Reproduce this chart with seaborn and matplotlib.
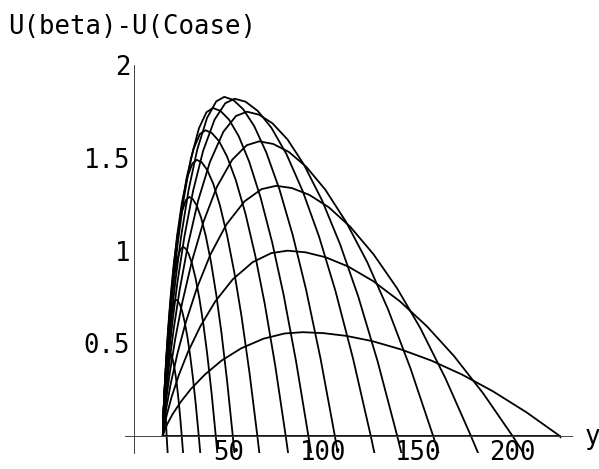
import matplotlib
matplotlib.use("Agg")
import pandas as pd
import matplotlib.pyplot as plt
import seaborn as sns
from matplotlib.ticker import MultipleLocator, FixedLocator

# curves: every hump starts at y=15, U=0
h00_x = [15, 225]
h00_u = [0, 0]
h01_x = [15, 15.05, 15.15, 15.35, 15.7, 16.0, 16.4, 16.75, 17.0, 17.6]
h01_u = [0, 0.05, 0.10, 0.15, 0.18, 0.17, 0.12, 0.06, 0, -0.10]
h02_x = [15, 15.04, 15.1, 15.25, 15.46, 15.7, 16.05, 16.47, 16.96, 17.52, 18.05, 18.5,
         19.02, 19.6, 20.26, 20.97, 21.75, 22.53, 23.31, 24.16, 25.0, 25.77]
h02_u = [0, 0.021, 0.05, 0.095, 0.149, 0.203, 0.266, 0.327, 0.380, 0.422, 0.444, 0.45,
         0.446, 0.434, 0.411, 0.376, 0.327, 0.266, 0.194, 0.103, 0, -0.10]
h03_x = [15, 15.07, 15.21, 15.49, 15.91, 16.4, 17.1, 17.94, 18.92, 20.04, 21.09, 22.0,
         22.96, 24.04, 25.24, 26.56, 28.0, 29.44, 30.88, 32.44, 34.0, 34.87]
h03_u = [0, 0.035, 0.081, 0.154, 0.244, 0.331, 0.434, 0.534, 0.621, 0.689, 0.725, 0.735,
         0.728, 0.709, 0.672, 0.614, 0.534, 0.434, 0.317, 0.168, 0, -0.10]
h04_x = [15, 15.11, 15.32, 15.75, 16.39, 17.14, 18.21, 19.49, 20.99, 22.7, 24.31, 25.7,
         27.08, 28.64, 30.37, 32.27, 34.35, 36.43, 38.5, 40.75, 43.0, 43.9]
h04_u = [0, 0.048, 0.112, 0.214, 0.339, 0.46, 0.603, 0.741, 0.862, 0.957, 1.007, 1.02,
         1.011, 0.983, 0.932, 0.853, 0.741, 0.603, 0.44, 0.234, 0, -0.10]
h05_x = [15, 15.14, 15.42, 15.98, 16.82, 17.8, 19.2, 20.88, 22.84, 25.08, 27.18, 29.0,
         30.84, 32.91, 35.21, 37.74, 40.5, 43.26, 46.02, 49.01, 52.0, 52.95]
h05_u = [0, 0.061, 0.142, 0.271, 0.428, 0.582, 0.762, 0.937, 1.09, 1.21, 1.273, 1.29,
         1.278, 1.244, 1.179, 1.078, 0.937, 0.762, 0.556, 0.295, 0, -0.10]
h06_x = [15, 15.18, 15.54, 16.26, 17.34, 18.6, 20.4, 22.56, 25.08, 27.96, 30.66, 33.0,
         35.56, 38.44, 41.64, 45.16, 49.0, 52.84, 56.68, 60.84, 65.0, 66.15]
h06_u = [0, 0.070, 0.164, 0.313, 0.495, 0.672, 0.881, 1.082, 1.259, 1.398, 1.471, 1.49,
         1.477, 1.436, 1.362, 1.246, 1.082, 0.881, 0.642, 0.341, 0, -0.10]
h07_x = [15, 15.23, 15.68, 16.58, 17.93, 19.5, 21.75, 24.45, 27.6, 31.2, 34.58, 37.5,
         40.9, 44.73, 48.98, 53.65, 58.75, 63.85, 68.95, 74.48, 80.0, 81.37]
h07_u = [0, 0.078, 0.182, 0.347, 0.548, 0.744, 0.975, 1.198, 1.394, 1.548, 1.629, 1.65,
         1.635, 1.591, 1.508, 1.379, 1.198, 0.975, 0.711, 0.378, 0, -0.10]
h08_x = [15, 15.27, 15.8, 16.86, 18.45, 20.3, 22.95, 26.13, 29.84, 34.08, 38.06, 41.5,
         45.54, 50.09, 55.14, 60.69, 66.75, 72.81, 78.87, 85.44, 92.0, 93.53]
h08_u = [0, 0.083, 0.195, 0.372, 0.588, 0.798, 1.046, 1.285, 1.496, 1.66, 1.747, 1.77,
         1.754, 1.706, 1.618, 1.48, 1.285, 1.046, 0.763, 0.405, 0, -0.10]
h09_x = [15, 15.33, 15.98, 17.28, 19.23, 21.5, 24.75, 28.65, 33.2, 38.4, 43.28, 47.5,
         52.18, 57.45, 63.3, 69.73, 76.75, 83.77, 90.79, 98.4, 106.0, 107.7]
h09_u = [0, 0.086, 0.201, 0.384, 0.608, 0.825, 1.082, 1.329, 1.546, 1.717, 1.806, 1.83,
         1.814, 1.764, 1.673, 1.53, 1.329, 1.082, 0.789, 0.419, 0, -0.10]
h10_x = [15, 15.38, 16.14, 17.66, 19.94, 22.6, 26.4, 30.96, 36.28, 42.36, 48.06, 53.0,
         58.76, 65.24, 72.44, 80.36, 89.0, 97.64, 106.28, 115.64, 125.0, 127.1]
h10_u = [0, 0.086, 0.2, 0.382, 0.604, 0.821, 1.076, 1.321, 1.538, 1.707, 1.796, 1.82,
         1.804, 1.754, 1.663, 1.522, 1.321, 1.076, 0.784, 0.417, 0, -0.10]
h11_x = [15, 15.45, 16.34, 18.12, 20.79, 23.9, 28.35, 33.69, 39.92, 47.04, 53.72, 59.5,
         65.86, 73.02, 80.97, 89.71, 99.25, 108.79, 118.33, 128.67, 139.0, 141.4]
h11_u = [0, 0.082, 0.193, 0.368, 0.581, 0.789, 1.034, 1.271, 1.479, 1.642, 1.727, 1.75,
         1.734, 1.687, 1.6, 1.463, 1.271, 1.034, 0.754, 0.401, 0, -0.10]
h12_x = [15, 15.51, 16.53, 18.57, 21.63, 25.2, 30.3, 36.42, 43.56, 51.72, 59.37, 66.0,
         73.36, 81.64, 90.84, 100.96, 112.0, 123.04, 134.08, 146.04, 158.0, 161.1]
h12_u = [0, 0.075, 0.175, 0.334, 0.528, 0.717, 0.94, 1.154, 1.344, 1.491, 1.569, 1.59,
         1.576, 1.533, 1.453, 1.329, 1.154, 0.94, 0.685, 0.364, 0, -0.10]
h13_x = [15, 15.6, 16.8, 19.2, 22.8, 27.0, 33.0, 40.2, 48.6, 58.2, 67.2, 75.0,
         83.24, 92.51, 102.81, 114.14, 126.5, 138.86, 151.22, 164.61, 178.0, 182.1]
h13_u = [0, 0.063, 0.149, 0.284, 0.448, 0.609, 0.798, 0.98, 1.141, 1.266, 1.332, 1.35,
         1.338, 1.301, 1.234, 1.129, 0.98, 0.798, 0.582, 0.309, 0, -0.10]
h14_x = [15, 15.66, 16.98, 19.62, 23.58, 28.2, 34.8, 42.72, 51.96, 62.52, 72.42, 81.0,
         90.52, 101.23, 113.13, 126.22, 140.5, 154.78, 169.06, 184.53, 200.0, 206.3]
h14_u = [0, 0.047, 0.11, 0.21, 0.332, 0.451, 0.591, 0.726, 0.845, 0.938, 0.987, 1.0,
         0.991, 0.964, 0.914, 0.836, 0.726, 0.591, 0.431, 0.229, 0, -0.10]
h15_x = [15, 15.74, 17.22, 20.18, 24.62, 29.8, 37.2, 46.08, 56.44, 68.28, 79.38, 89.0,
         99.88, 112.12, 125.72, 140.68, 157.0, 173.32, 189.64, 207.32, 225.0, 225.4]
h15_u = [0, 0.026, 0.062, 0.118, 0.186, 0.253, 0.331, 0.407, 0.473, 0.525, 0.553, 0.56,
         0.555, 0.540, 0.512, 0.468, 0.407, 0.331, 0.241, 0.128, 0, -0.008]

y_ticks = [50, 100, 150, 200]
u_ticks = [0.5, 1, 1.5, 2]
u_tick_labels = ["0.5", "1", "1.5", "2"]

curves = [(h00_x, h00_u), (h01_x, h01_u), (h02_x, h02_u), (h03_x, h03_u),
          (h04_x, h04_u), (h05_x, h05_u), (h06_x, h06_u), (h07_x, h07_u),
          (h08_x, h08_u), (h09_x, h09_u), (h10_x, h10_u), (h11_x, h11_u),
          (h12_x, h12_u), (h13_x, h13_u), (h14_x, h14_u), (h15_x, h15_u)]
frames = []
for i, (cx, cu) in enumerate(curves):
    frames.append(pd.DataFrame({"y": cx, "U": cu, "curve": i}))
df = pd.concat(frames, ignore_index=True)

sns.set_style("white")
plt.rcParams["font.family"] = ["DejaVu Sans Mono"]
plt.rcParams["text.color"] = "black"

fig = plt.figure(figsize=(5.99, 4.69), dpi=100)
ax = fig.add_axes([100 / 599, 16 / 469, 480 / 599, 393 / 469])
sns.lineplot(data=df, x="y", y="U", units="curve", estimator=None, sort=False,
             color="black", linewidth=1.3, legend=False, ax=ax)

ax.set_xlim(-18.25, 235.7)
ax.set_ylim(-0.092, 2.029)
ax.set_xlabel("")
ax.set_ylabel("")

# Mathematica-style axes through the origin
for side in ["top", "right"]:
    ax.spines[side].set_visible(False)
ax.spines["left"].set_position(("data", 0))
ax.spines["bottom"].set_position(("data", 0))
ax.spines["left"].set_bounds(-0.092, 2.0)
ax.spines["bottom"].set_bounds(-5, 231.5)
for side in ["left", "bottom"]:
    ax.spines[side].set_linewidth(0.7)
    ax.spines[side].set_color("#444444")

ax.xaxis.set_major_locator(FixedLocator(y_ticks))
ax.xaxis.set_minor_locator(MultipleLocator(10))
ax.yaxis.set_major_locator(FixedLocator(u_ticks))
ax.yaxis.set_minor_locator(MultipleLocator(0.1))
ax.set_xticklabels([str(t) for t in y_ticks])
ax.set_yticklabels(u_tick_labels)
ax.tick_params(which="major", direction="in", length=4, width=0.6,
               color="#444444", labelcolor="black", labelsize=18.5, pad=3)
ax.tick_params(which="minor", direction="in", length=2, width=0.5, color="#444444")

fig.text(8 / 599, 1 - 27 / 469, "U(beta)-U(Coase)", fontsize=18.5,
         ha="left", va="center")
fig.text(585 / 599, 1 - 437 / 469, "y", fontsize=18.5, ha="left", va="center")

fig.savefig("out.png", dpi=100)
